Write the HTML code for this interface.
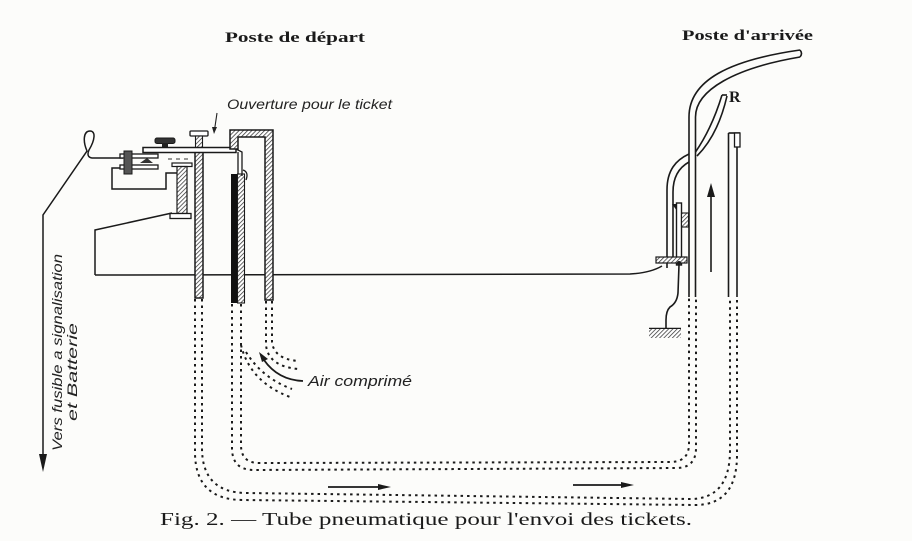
<!DOCTYPE html>
<html><head><meta charset="utf-8">
<style>
html,body{margin:0;padding:0;background:#fcfcfa;}
svg{display:block;}
</style></head><body>
<svg width="912" height="541" viewBox="0 0 912 541" xmlns="http://www.w3.org/2000/svg">
<defs>
<pattern id="h" width="3" height="3" patternUnits="userSpaceOnUse" patternTransform="rotate(45)">
<rect width="3" height="3" fill="#fff"/>
<line x1="0" y1="0" x2="0" y2="3" stroke="#333" stroke-width="1.5"/>
</pattern>
</defs>
<rect width="912" height="541" fill="#fcfcfa"/>

<!-- Titles -->
<text x="225" y="42" font-family="Liberation Serif, serif" font-weight="bold" font-size="15" textLength="140" lengthAdjust="spacingAndGlyphs" fill="#1a1a1a">Poste de départ</text>
<text x="682" y="40" font-family="Liberation Serif, serif" font-weight="bold" font-size="15" textLength="131" lengthAdjust="spacingAndGlyphs" fill="#1a1a1a">Poste d'arrivée</text>

<!-- Ouverture label -->
<text x="227" y="109" font-family="Liberation Sans, sans-serif" font-style="italic" font-size="14" textLength="165" lengthAdjust="spacingAndGlyphs" fill="#222">Ouverture pour le ticket</text>
<line x1="217" y1="113" x2="214.5" y2="130" stroke="#222" stroke-width="1.1"/>
<polygon points="212,127 217,127 214,134" fill="#222"/>

<g stroke="#1a1a1a" fill="none" stroke-width="1.5">
<!-- baseline wire -->
<path d="M95,275 L630,274 Q650,273 662,266"/>
<!-- base block -->
<path d="M95,275 L95,230 L172,213"/>
<!-- rect wire -->
<polyline points="120,168 112,168 112,189 166,189 166,173 177,173"/>
<!-- long wire with loop -->
<path d="M123,158 L92,158 Q86,157 89,150 C95,140 96,131 90,131 C83,131 83,142 87,151 L43,215 L43,458"/>
</g>
<polygon points="39,454 47,454 43,472" fill="#1a1a1a"/>

<!-- vertical text -->
<text transform="translate(62,451) rotate(-90)" font-family="Liberation Sans, sans-serif" font-style="italic" font-size="14" textLength="197" lengthAdjust="spacingAndGlyphs" fill="#222">Vers fusible a signalisation</text>
<text transform="translate(77,421) rotate(-90)" font-family="Liberation Sans, sans-serif" font-style="italic" font-size="14" textLength="98" lengthAdjust="spacingAndGlyphs" fill="#222">et Batterie</text>

<!-- contacts -->
<rect x="120" y="154" width="38" height="4" fill="#fff" stroke="#1a1a1a" stroke-width="1.3"/>
<rect x="120" y="165" width="38" height="4" fill="#fff" stroke="#1a1a1a" stroke-width="1.3"/>
<rect x="124" y="151" width="8" height="23" fill="#555" stroke="#1a1a1a" stroke-width="1"/>
<polygon points="140,163 147,158 153,163" fill="#333"/>

<!-- spool -->
<rect x="172" y="163" width="20" height="3.5" fill="#fff" stroke="#1a1a1a" stroke-width="1.2"/>
<rect x="177" y="166.5" width="10" height="47" fill="url(#h)" stroke="#1a1a1a" stroke-width="1.2"/>
<rect x="170" y="213.5" width="21" height="5" fill="#fff" stroke="#1a1a1a" stroke-width="1.3"/>
<g stroke="#333" stroke-width="1"><line x1="168" y1="159" x2="172" y2="159"/><line x1="176" y1="159" x2="180" y2="159"/><line x1="184" y1="159" x2="188" y2="159"/></g>

<!-- left tube wall -->
<rect x="195" y="152" width="8" height="146" fill="url(#h)" stroke="#1a1a1a" stroke-width="1.5"/>
<!-- screw -->
<rect x="190" y="131" width="18" height="5" rx="1" fill="#fff" stroke="#1a1a1a" stroke-width="1.3"/>
<rect x="195.5" y="136" width="7" height="12" fill="url(#h)" stroke="#1a1a1a" stroke-width="1.1"/>
<!-- knob -->
<rect x="155" y="138" width="20" height="5.5" rx="2" fill="#333" stroke="#1a1a1a" stroke-width="1"/>
<rect x="162" y="143" width="6" height="5" fill="#222"/>
<!-- lever -->
<rect x="143" y="147.5" width="93" height="5" fill="#fff" stroke="#1a1a1a" stroke-width="1.5"/>

<!-- cap / right wall -->
<path d="M230,149 L230,130 L273,130 L273,300 L265,300 L265,137 L238,137 L238,149 Z" fill="url(#h)" stroke="#1a1a1a" stroke-width="1.5"/>
<!-- dark inner wall -->
<rect x="231" y="174" width="6.5" height="129" fill="#111"/>
<rect x="237.5" y="174" width="7" height="129" fill="url(#h)" stroke="#1a1a1a" stroke-width="1.1"/>
<!-- bent strip -->
<path d="M236,149 L242,152 L242,176 M238,152 L238,174 M243,170 Q249,172 246,180" stroke="#1a1a1a" stroke-width="1.3" fill="none"/>

<!-- dotted tubes -->
<g stroke="#1a1a1a" stroke-width="2" fill="none" stroke-dasharray="2.5 4">
<path d="M195,299 L195,452 Q195,500 243,500 L695,505 Q737,505 737,455 L737,298"/>
<path d="M202,299 L202,448 Q202,493 247,493 L690,499 Q730,499 730,450 L730,298"/>
<path d="M232,304 L232,448 Q232,470 254,470 L676,468 Q696,468 696,448 L696,298"/>
<path d="M241,304 L241,445 Q241,463 259,463 L670,462 Q689,462 689,444 L689,298"/>
<path d="M266,301 L266,345 Q268,366 298,369"/>
<path d="M272,301 L272,342 Q274,359 298,361"/>
<path d="M241,345 Q250,382 290,397"/>
<path d="M246,352 Q262,378 292,389"/>
</g>

<!-- air arrow -->
<path d="M303,381 Q278,380 264,360" stroke="#1a1a1a" stroke-width="1.8" fill="none"/>
<polygon points="259,352 268,359 262,362" fill="#1a1a1a"/>
<text x="308" y="386" font-family="Liberation Sans, sans-serif" font-style="italic" font-size="15" textLength="104" lengthAdjust="spacingAndGlyphs" fill="#222">Air comprimé</text>

<!-- bottom arrows -->
<line x1="328" y1="487" x2="382" y2="487" stroke="#1a1a1a" stroke-width="1.8"/>
<polygon points="378,484 391,487 378,490" fill="#1a1a1a"/>
<line x1="573" y1="485" x2="625" y2="485" stroke="#1a1a1a" stroke-width="1.8"/>
<polygon points="621,482 634,485 621,488" fill="#1a1a1a"/>

<!-- right station -->
<g stroke="#1a1a1a" stroke-width="1.6" fill="none">
<path d="M689,297 L689,117 C689,80 730,60 800,50"/>
<path d="M695.5,297 L695.5,117 C695.5,90 735,68 800,57"/>
<path d="M800,50 Q803,53.5 800,57"/>
<!-- R tube -->
<path d="M695.5,152 Q712,128 722,95"/>
<path d="M697,156 Q718,135 727,96"/>
<line x1="722" y1="95" x2="727" y2="95"/>
<!-- side branch -->
<path d="M689,154 C676,160 667,170 667,190 L667,268"/>
<path d="M689,162 C680,167 673,176 673,192 L673,262"/>
<!-- right tube -->
<line x1="728.5" y1="133" x2="728.5" y2="297"/>
<line x1="737" y1="133" x2="737" y2="297"/>
<line x1="728.5" y1="133" x2="740" y2="133"/>
<!-- ground wire -->
<path d="M679,265 L678,293 Q677,303 670,307 Q666,311 666,320 L666,329"/>
<!-- up arrow -->
<line x1="711" y1="272" x2="711" y2="194"/>
</g>
<polygon points="707,197 715,197 711,183" fill="#1a1a1a"/>
<rect x="734.5" y="133" width="5.5" height="14" fill="#fff" stroke="#1a1a1a" stroke-width="1.3"/>
<!-- bracket -->
<rect x="676.5" y="203" width="5" height="62" fill="#fff" stroke="#1a1a1a" stroke-width="1.4"/>
<polygon points="672,204 677,204 677,211" fill="#1a1a1a"/>
<rect x="681.5" y="213" width="7" height="14" fill="url(#h)" stroke="#1a1a1a" stroke-width="1.1"/>
<rect x="656" y="257" width="31" height="6" fill="url(#h)" stroke="#1a1a1a" stroke-width="1.2"/>
<circle cx="679" cy="263" r="2" fill="#1a1a1a"/>
<!-- ground -->
<line x1="649" y1="328.5" x2="681" y2="328.5" stroke="#1a1a1a" stroke-width="1.5"/>
<rect x="649" y="329" width="32" height="9" fill="url(#h)"/>

<text x="729" y="102" font-family="Liberation Serif, serif" font-weight="bold" font-size="16" fill="#1a1a1a">R</text>

<!-- caption -->
<text x="160" y="525" font-family="Liberation Serif, serif" font-size="18" textLength="532" lengthAdjust="spacingAndGlyphs" fill="#1a1a1a">Fig. 2. — Tube pneumatique pour l'envoi des tickets.</text>
</svg>
</body></html>
